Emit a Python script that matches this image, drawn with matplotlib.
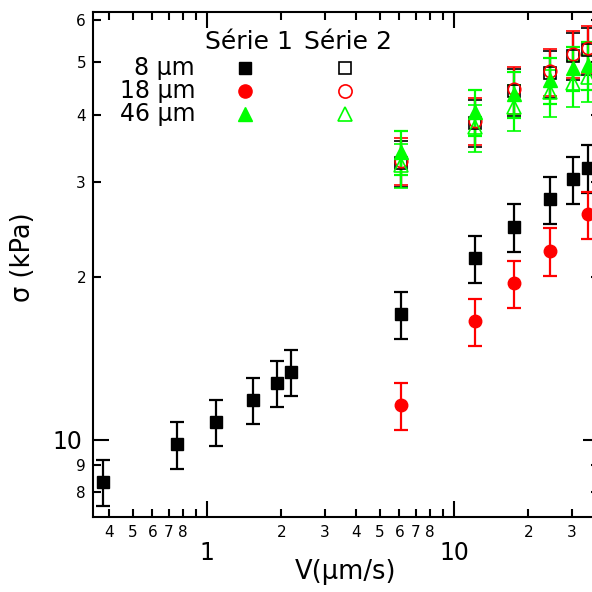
import numpy as np
import matplotlib
matplotlib.use("Agg")
import matplotlib.pyplot as plt
from matplotlib.ticker import FixedLocator, FixedFormatter

plt.rcParams['font.family'] = ['DejaVu Sans']

# Série 1 (filled markers)
x_8_s1 = np.array([0.379, 0.756, 1.087, 1.535, 1.92, 2.19, 6.09, 12.2, 17.5, 24.5, 30.3, 34.9])
y_8_s1 = np.array([8.36, 9.83, 10.8, 11.86, 12.75, 13.36, 17.1, 21.7, 24.8, 27.9, 30.4, 31.9])
e_8_s1 = np.array([0.82, 0.98, 1.05, 1.17, 1.23, 1.3, 1.7, 2.2, 2.5, 2.8, 3.0, 3.2])

x_18_s1 = np.array([6.09, 12.2, 17.5, 24.5, 34.9])
y_18_s1 = np.array([11.6, 16.6, 19.5, 22.4, 26.2])
e_18_s1 = np.array([1.15, 1.65, 1.95, 2.25, 2.6])

x_46_s1 = np.array([6.09, 12.2, 17.5, 24.5, 30.3, 34.9])
y_46_s1 = np.array([34.2, 40.5, 43.7, 46.4, 48.8, 49.5])
e_46_s1 = np.array([3.2, 4.0, 4.3, 4.6, 4.6, 5.0])

# Série 2 (open markers)
x_s2 = np.array([6.09, 12.2, 17.5, 24.5, 30.3, 34.9])
y_8_s2 = np.array([32.6, 38.7, 44.2, 47.8, 51.5, 52.7])
e_8_s2 = np.array([3.2, 3.9, 4.4, 4.8, 5.1, 5.3])
y_18_s2 = np.array([32.9, 39.0, 44.6, 48.2, 51.9, 53.1])
e_18_s2 = np.array([3.3, 3.9, 4.4, 4.8, 5.2, 5.3])
y_46_s2 = np.array([32.3, 37.9, 41.4, 44.1, 45.8, 46.9])
e_46_s2 = np.array([3.0, 3.8, 4.1, 4.4, 4.5, 4.7])

labels = ["8 µm", "18 µm", "46 µm"]
green = '#00ff00'

fig = plt.figure(figsize=(5.92, 5.92), dpi=100)
# right spine sits just outside the picture, as in the original
ax = fig.add_axes([93/592, 75/592, 506/592, 505/592])
ax.set_xscale('log')
ax.set_yscale('log')
ax.set_xlim(0.345, 38.6)
ax.set_ylim(7.2, 62)

eb = dict(capsize=4.7, elinewidth=1.6, capthick=1.6, linestyle='none', clip_on=False)

ax.errorbar(x_8_s1, y_8_s1, yerr=e_8_s1, fmt='s', color='black', ms=8.6, **eb)
ax.errorbar(x_18_s1, y_18_s1, yerr=e_18_s1, fmt='o', color='red', ms=9, **eb)
ax.errorbar(x_s2, y_8_s2, yerr=e_8_s2, fmt='s', color='black', mfc='none', ms=8.6, mew=1.2, **eb)
ax.errorbar(x_s2, y_18_s2, yerr=e_18_s2, fmt='o', color='red', mfc='none', ms=9, mew=1.2, **eb)
ax.errorbar(x_s2, y_46_s2, yerr=e_46_s2, fmt='^', color=green, mfc='none', ms=10, mew=1.2, **eb)
ax.errorbar(x_46_s1, y_46_s1, yerr=e_46_s1, fmt='^', color=green, ms=10, **eb)

# ticks: decades get big labels, in-between ticks small ones
ax.xaxis.set_major_locator(FixedLocator([1, 10]))
ax.xaxis.set_major_formatter(FixedFormatter(['1', '10']))
xminor = [0.4, 0.5, 0.6, 0.7, 0.8, 0.9, 2, 3, 4, 5, 6, 7, 8, 9, 20, 30]
xminor_lab = ['4', '5', '6', '7', '8', '', '2', '3', '4', '5', '6', '7', '8', '', '2', '3']
ax.xaxis.set_minor_locator(FixedLocator(xminor))
ax.xaxis.set_minor_formatter(FixedFormatter(xminor_lab))

ax.yaxis.set_major_locator(FixedLocator([10]))
ax.yaxis.set_major_formatter(FixedFormatter(['10']))
yminor = [8, 9, 20, 30, 40, 50, 60]
ax.yaxis.set_minor_locator(FixedLocator(yminor))
ax.yaxis.set_minor_formatter(FixedFormatter(['8', '9', '2', '3', '4', '5', '6']))

ax.tick_params(which='both', direction='in', top=True, right=True, width=1.5)
ax.tick_params(which='major', length=11.5, labelsize=17)
ax.tick_params(which='minor', length=6, labelsize=11)
ax.tick_params(axis='x', which='major', pad=17)
ax.tick_params(axis='x', which='minor', pad=6)
ax.tick_params(axis='y', which='major', pad=8)
ax.tick_params(axis='y', which='minor', pad=5)
for s in ax.spines.values():
    s.set_linewidth(1.5)

ax.set_xlabel("V(µm/s)", fontsize=18.5)
ax.set_ylabel("σ (kPa)", fontsize=18.5)
ax.xaxis.set_label_coords(0.5, -0.083)
ax.yaxis.set_label_coords(-0.112, 0.515)

# legend as a small table
ax.text(0.3083, 0.941, "Série 1", transform=ax.transAxes, fontsize=18, ha='center', va='center')
ax.text(0.504, 0.941, "Série 2", transform=ax.transAxes, fontsize=18, ha='center', va='center')
rows_y = [0.889, 0.8436, 0.798]
mk1 = [dict(marker='s', color='black', ms=9),
       dict(marker='o', color='red', ms=9.5),
       dict(marker='^', color=green, ms=10.5)]
for lab, yy, m in zip(labels, rows_y, mk1):
    ax.text(0.2016, yy, lab, transform=ax.transAxes, fontsize=17, ha='right', va='center')
    ax.plot([0.3004], [yy], transform=ax.transAxes, linestyle='none', clip_on=False, **m)
    ax.plot([0.498], [yy], transform=ax.transAxes, linestyle='none', clip_on=False,
            mfc='none', mew=1.2, **m)

fig.savefig("out.png", dpi=100)
